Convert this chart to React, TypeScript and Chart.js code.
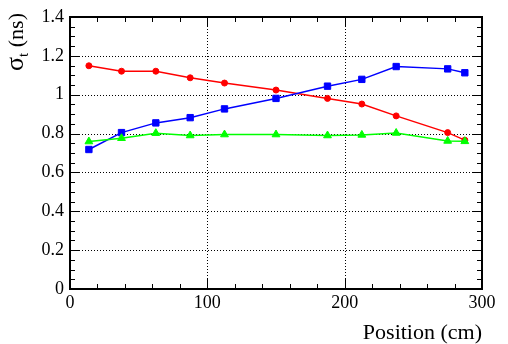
import React, { useEffect, useRef } from "react";
import { Chart, registerables } from "chart.js";

Chart.register(...registerables);

const positions = [13.75, 37.5, 62.5, 87.5, 112.5, 150, 187.5, 212.5, 237.5, 275, 287.5];
const redValues = [1.149, 1.121, 1.121, 1.087, 1.06, 1.024, 0.981, 0.952, 0.891, 0.805, 0.766];
const blueValues = [0.718, 0.805, 0.855, 0.882, 0.927, 0.981, 1.044, 1.079, 1.145, 1.133, 1.113];
const greenValues = [0.759, 0.776, 0.802, 0.79, 0.795, 0.795, 0.79, 0.793, 0.803, 0.762, 0.76];
const xTickLabels = ["0", "100", "200", "300"];
const yTickLabels = ["0", "0.2", "0.4", "0.6", "0.8", "1", "1.2", "1.4"];
const xTitle = "Position (cm)";
const yTitleMain = "σ";
const yTitleSub = "t";
const yTitleRest = " (ns)";

const SERIF = "'Liberation Serif', 'DejaVu Serif', serif";

const framePlugin = {
  id: "rootFrame",
  beforeDatasetsDraw(chart: any) {
    const { ctx, chartArea: a, scales } = chart;
    const xs = scales.x;
    const ys = scales.y;
    ctx.save();
    ctx.strokeStyle = "#000";
    ctx.lineWidth = 1;
    ctx.setLineDash([1, 2]);
    [100, 200].forEach((v) => {
      const px = Math.round(xs.getPixelForValue(v)) + 0.5;
      ctx.beginPath();
      ctx.moveTo(px, a.top);
      ctx.lineTo(px, a.bottom);
      ctx.stroke();
    });
    [0.2, 0.4, 0.6, 0.8, 1.0, 1.2].forEach((v) => {
      const py = Math.round(ys.getPixelForValue(v)) + 0.5;
      ctx.beginPath();
      ctx.moveTo(a.left, py);
      ctx.lineTo(a.right, py);
      ctx.stroke();
    });
    ctx.restore();
  },
  afterDatasetsDraw(chart: any) {
    const { ctx, chartArea: a, scales } = chart;
    const xs = scales.x;
    const ys = scales.y;
    ctx.save();
    ctx.strokeStyle = "#000";
    ctx.lineWidth = 1;
    ctx.setLineDash([]);
    for (let v = 0; v <= 300; v += 20) {
      const px = Math.round(xs.getPixelForValue(v)) + 0.5;
      const len = v % 100 === 0 ? 10 : 5;
      ctx.beginPath();
      ctx.moveTo(px, a.bottom);
      ctx.lineTo(px, a.bottom - len);
      ctx.moveTo(px, a.top);
      ctx.lineTo(px, a.top + len);
      ctx.stroke();
    }
    for (let i = 0; i <= 28; i++) {
      const v = i * 0.05;
      const py = Math.round(ys.getPixelForValue(v)) + 0.5;
      const len = i % 4 === 0 ? 10 : 5;
      ctx.beginPath();
      ctx.moveTo(a.left, py);
      ctx.lineTo(a.left + len, py);
      ctx.moveTo(a.right, py);
      ctx.lineTo(a.right - len, py);
      ctx.stroke();
    }
    ctx.lineWidth = 2;
    ctx.strokeRect(a.left, a.top, a.right - a.left, a.bottom - a.top);

    ctx.fillStyle = "#000";
    ctx.font = `22px ${SERIF}`;
    ctx.textAlign = "right";
    ctx.textBaseline = "alphabetic";
    ctx.fillText(xTitle, a.right, 339);

    ctx.translate(23, 13);
    ctx.rotate(-Math.PI / 2);
    ctx.textAlign = "left";
    ctx.font = `26px ${SERIF}`;
    const w1 = ctx.measureText(yTitleMain).width;
    ctx.font = `22px ${SERIF}`;
    const w3 = ctx.measureText(yTitleRest).width;
    ctx.font = `15px ${SERIF}`;
    const w2 = ctx.measureText(yTitleSub).width;
    const total = w1 + w2 + w3;
    let x0 = -total;
    ctx.font = `26px ${SERIF}`;
    ctx.fillText(yTitleMain, x0, 0);
    x0 += w1;
    ctx.font = `15px ${SERIF}`;
    ctx.fillText(yTitleSub, x0, 5);
    x0 += w2;
    ctx.font = `22px ${SERIF}`;
    ctx.fillText(yTitleRest, x0, 0);
    ctx.restore();
  },
};

export default function App() {
  const ref = useRef<HTMLCanvasElement>(null);
  useEffect(() => {
    document.body.style.margin = "0";
    const makePts = (vals: number[]) => positions.map((x, i) => ({ x, y: vals[i] }));
    const chart = new Chart(ref.current as HTMLCanvasElement, {
      type: "scatter",
      data: {
        datasets: [
          {
            data: makePts(greenValues),
            showLine: true,
            borderColor: "#00ff00",
            backgroundColor: "#00ff00",
            borderWidth: 1.5,
            pointStyle: "triangle",
            pointRadius: 4.5,
            pointBorderWidth: 1,
          },
          {
            data: makePts(blueValues),
            showLine: true,
            borderColor: "#0000ff",
            backgroundColor: "#0000ff",
            borderWidth: 1.5,
            pointStyle: "rect",
            pointRadius: 4.5,
            pointBorderWidth: 1,
          },
          {
            data: makePts(redValues),
            showLine: true,
            borderColor: "#ff0000",
            backgroundColor: "#ff0000",
            borderWidth: 1.5,
            pointStyle: "circle",
            pointRadius: 3,
            pointBorderWidth: 1,
          },
        ],
      },
      options: {
        animation: false,
        responsive: false,
        devicePixelRatio: 1,
        layout: { padding: { top: 17, right: 26, left: 0, bottom: 0 } },
        plugins: { legend: { display: false }, tooltip: { enabled: false } },
        scales: {
          x: {
            type: "linear",
            min: 0,
            max: 300,
            grid: { display: false, drawTicks: false },
            border: { display: false },
            ticks: {
              stepSize: 100,
              color: "#000",
              padding: 3,
              maxRotation: 0,
              font: { family: SERIF, size: 18 },
              callback: (v: any) => {
                const i = xTickLabels.indexOf(String(Math.round(Number(v))));
                return i >= 0 ? xTickLabels[i] : "";
              },
            },
            afterFit: (s: any) => {
              s.height = 55;
            },
          },
          y: {
            type: "linear",
            min: 0,
            max: 1.4,
            grid: { display: false, drawTicks: false },
            border: { display: false },
            ticks: {
              stepSize: 0.2,
              color: "#000",
              padding: 6,
              font: { family: SERIF, size: 18 },
              callback: (v: any) => {
                const i = Math.round(Number(v) / 0.2);
                return yTickLabels[i] ?? "";
              },
            },
            afterFit: (s: any) => {
              s.width = 70;
            },
          },
        },
      },
      plugins: [framePlugin],
    });
    return () => chart.destroy();
  }, []);
  return (
    <div style={{ width: 508, height: 344 }}>
      <canvas ref={ref} width={508} height={344} style={{ display: "block" }} />
    </div>
  );
}
